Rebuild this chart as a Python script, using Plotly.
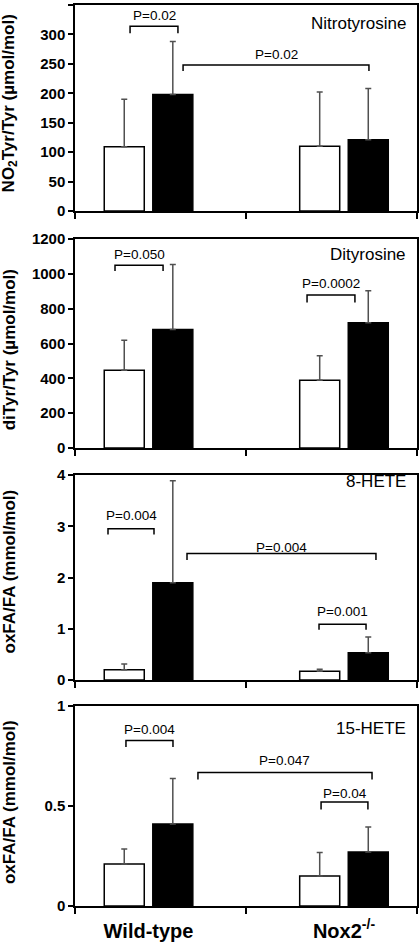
import plotly.graph_objects as go

# ---------------- data ----------------
groups = ["Wild-type", "Nox2<sup>-/-</sup>"]
group_pos = [0.43, 1.573]          # category layout positions on the x scale
bar_shift = 0.142                  # half distance between paired bars
bar_w = 0.234

panel_titles = ["Nitrotyrosine", "Dityrosine", "8-HETE", "15-HETE"]
y_titles = ["NO<sub>2</sub>Tyr/Tyr (µmol/mol)", "diTyr/Tyr (µmol/mol)",
            "oxFA/FA (mmol/mol)", "oxFA/FA (mmol/mol)"]
y_ranges = [[0, 350], [0, 1200], [0, 4], [0, 1]]
y_dticks = [50, 200, 1, 0.5]

# open bars (control) and filled bars (treated), with upper SD
nitro_open = [109, 110]
nitro_open_sd = [81, 92]
nitro_filled = [198, 121]
nitro_filled_sd = [90, 87]

dityr_open = [446, 389]
dityr_open_sd = [173, 140]
dityr_filled = [680, 719]
dityr_filled_sd = [374, 184]

hete8_open = [0.20, 0.17]
hete8_open_sd = [0.11, 0.04]
hete8_filled = [1.90, 0.53]
hete8_filled_sd = [1.99, 0.31]

hete15_open = [0.21, 0.15]
hete15_open_sd = [0.075, 0.118]
hete15_filled = [0.41, 0.27]
hete15_filled_sd = [0.227, 0.125]

# significance brackets: (x_left, x_right, y_top, y_leg, label, y_label)
brackets = [
    [(0.322, 0.602, 314, 302, "P=0.02", 333),
     (0.632, 1.719, 248, 238, "P=0.02", 266)],
    [(0.234, 0.515, 1050, 1016, "P=0.050", 1110),
     (1.357, 1.637, 878, 836, "P=0.0002", 943)],
    [(0.193, 0.462, 2.95, 2.84, "P=0.004", 3.21),
     (0.655, 1.760, 2.47, 2.34, "P=0.004", 2.58),
     (1.427, 1.702, 1.09, 0.98, "P=0.001", 1.34)],
    [(0.298, 0.573, 0.828, 0.795, "P=0.004", 0.885),
     (0.719, 1.737, 0.667, 0.633, "P=0.047", 0.728),
     (1.439, 1.713, 0.52, 0.483, "P=0.04", 0.565)],
]

open_vals = [nitro_open, dityr_open, hete8_open, hete15_open]
open_sds = [nitro_open_sd, dityr_open_sd, hete8_open_sd, hete15_open_sd]
filled_vals = [nitro_filled, dityr_filled, hete8_filled, hete15_filled]
filled_sds = [nitro_filled_sd, dityr_filled_sd, hete8_filled_sd, hete15_filled_sd]

# ---------------- layout ----------------
W, H = 419, 945
mt, mb, ml, mr = 5, 39, 75, 2
ph = H - mt - mb
panel_px = [(5, 211), (239, 448), (475, 680), (706, 906)]
domains = [[(H - mb - b) / ph, (H - mb - t) / ph] for t, b in panel_px]
title_y = [0.908, 0.928, 0.966, 0.89]
ytitle_y = [0.52, 0.47, 0.527, 0.517]

FONT = "Arial, Liberation Sans, sans-serif"
fig = go.Figure()
annotations = []
shapes = []

for i in range(4):
    xa = "x" if i == 0 else f"x{i+1}"
    ya = "y" if i == 0 else f"y{i+1}"
    xo = [c - bar_shift for c in group_pos]
    xf = [c + bar_shift for c in group_pos]
    err_style = dict(type="data", symmetric=False, color="#505050",
                     thickness=1.5, width=3)
    fig.add_trace(go.Bar(
        x=xo, y=open_vals[i], width=bar_w, xaxis=xa, yaxis=ya,
        marker=dict(color="white", line=dict(color="black", width=1.5)),
        error_y=dict(array=open_sds[i], arrayminus=[0, 0], **err_style),
        showlegend=False))
    fig.add_trace(go.Bar(
        x=xf, y=filled_vals[i], width=bar_w, xaxis=xa, yaxis=ya,
        marker=dict(color="black", line=dict(color="black", width=1.5)),
        error_y=dict(array=filled_sds[i], arrayminus=[0, 0], **err_style),
        showlegend=False))

    ax_key = "xaxis" if i == 0 else f"xaxis{i+1}"
    ay_key = "yaxis" if i == 0 else f"yaxis{i+1}"
    fig.update_layout(**{
        ax_key: dict(domain=[0, 1], range=[0, 2], anchor=ya,
                     showline=True, linecolor="black", linewidth=1.5,
                     mirror=True, showgrid=False, zeroline=False,
                     tickmode="array", tickvals=group_pos, ticktext=groups,
                     ticks="", showticklabels=(i == 3),
                     ticklabelstandoff=6,
                     tickfont=dict(family=FONT, size=20, color="black",
                                   weight="bold"),
                     minor=dict(tickmode="array", tickvals=[0, 1, 2],
                                ticks="outside", ticklen=6, tickwidth=1.5,
                                tickcolor="black", showgrid=False)),
        ay_key: dict(domain=domains[i], range=y_ranges[i], anchor=xa,
                     dtick=y_dticks[i], tick0=0,
                     showline=True, linecolor="black", linewidth=1.5,
                     mirror=True, showgrid=False, zeroline=False,
                     ticks="outside", ticklen=5, tickwidth=1.5,
                     tickcolor="black",
                     tickfont=dict(family=FONT, size=15, color="black",
                                   weight="bold")),
    })

    annotations.append(dict(
        text=panel_titles[i], xref="paper", x=0.974, xanchor="right",
        yref=f"{ya} domain", y=title_y[i], yanchor="middle",
        showarrow=False, font=dict(family=FONT, size=17, color="black")))
    annotations.append(dict(
        text=y_titles[i], xref="paper", x=(9.5 - ml) / (W - ml - mr),
        xanchor="center", yref=f"{ya} domain", y=ytitle_y[i],
        yanchor="middle", textangle=-90, showarrow=False,
        font=dict(family=FONT, size=17, color="black", weight="bold")))

    for (x0, x1, yt, yl, lab, ylab) in brackets[i]:
        shapes.append(dict(
            type="path", xref=xa, yref=ya,
            path=f"M {x0} {yl} L {x0} {yt} L {x1} {yt} L {x1} {yl}",
            line=dict(color="black", width=1.5)))
        annotations.append(dict(
            text=lab, xref=xa, x=(x0 + x1) / 2, xanchor="center",
            yref=ya, y=ylab, yanchor="middle", showarrow=False,
            font=dict(family=FONT, size=13.5, color="black")))

fig.update_layout(
    width=W, height=H, barmode="overlay",
    margin=dict(t=mt, b=mb, l=ml, r=mr, autoexpand=False),
    plot_bgcolor="white", paper_bgcolor="white",
    annotations=annotations, shapes=shapes,
    font=dict(family=FONT, color="black"),
)

fig.write_html("out.html",
               config={"displayModeBar": False},
               post_script="document.body.style.margin='0';"
                           "document.body.style.overflow='hidden';")
